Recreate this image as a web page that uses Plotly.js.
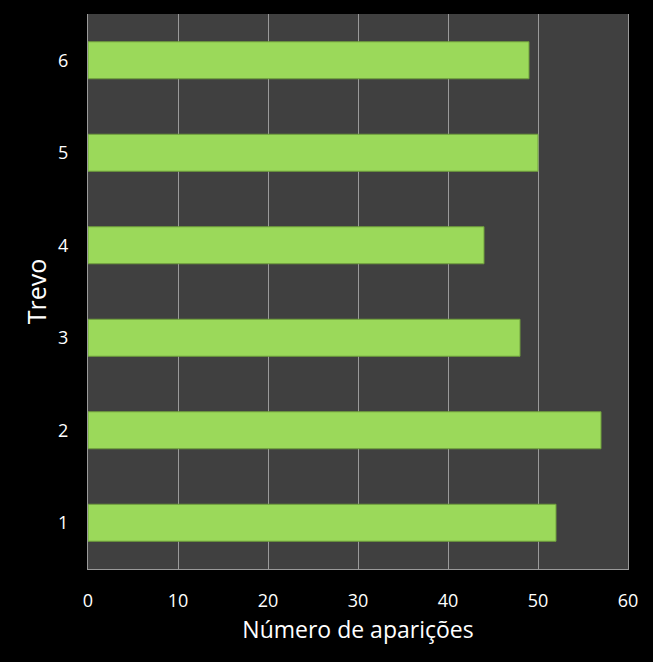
<!DOCTYPE html>
<html><head><meta charset="utf-8">
<script src="https://cdn.plot.ly/plotly-3.0.1.min.js"></script>
<style>html,body{margin:0;padding:0;background:#000;}</style>
</head><body>
<div id="chart" style="width:653px;height:662px;"></div>
<script>
const categories = ["1","2","3","4","5","6"];
const values = [52, 57, 48, 44, 50, 49];
const xTicks = [0,10,20,30,40,50,60];

const trace = {
  type: "bar",
  orientation: "h",
  y: categories,
  x: values,
  marker: {color: "#9bd95a", line: {color: "#6f9e3c", width: 1}},
  hoverinfo: "x+y"
};
const layout = {
  width: 653, height: 662,
  paper_bgcolor: "#000000",
  plot_bgcolor: "#404040",
  margin: {l: 88, r: 25, t: 14, b: 93},
  bargap: 0.6,
  showlegend: false,
  font: {family: "Open Sans, sans-serif", color: "#ffffff"},
  xaxis: {
    range: [0, 60], tickvals: xTicks, ticktext: xTicks.map(String),
    showgrid: true, gridcolor: "#9a9a9a", gridwidth: 1,
    zeroline: false, showline: true, linecolor: "#9a9a9a", mirror: false,
    ticks: "", ticklabelstandoff: 15, tickfont: {size: 18, color: "#ffffff"},
    title: {text: "Número de aparições", font: {size: 23, color: "#ffffff"}, standoff: 11}
  },
  yaxis: {
    type: "category", categoryorder: "array", categoryarray: categories,
    showgrid: false, zeroline: false, showline: true, linecolor: "#9a9a9a", mirror: true,
    ticks: "", ticklabelstandoff: 15, tickfont: {size: 18, color: "#ffffff"},
    title: {text: "Trevo", font: {size: 25, color: "#ffffff"}, standoff: 4}
  }
};
Plotly.newPlot("chart", [trace], layout, {displayModeBar: false, staticPlot: true});
</script>
</body></html>
